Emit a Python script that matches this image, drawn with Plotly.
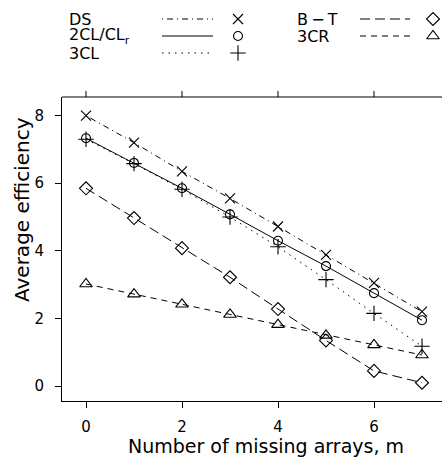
import plotly.graph_objects as go

m = [0, 1, 2, 3, 4, 5, 6, 7]
ds = [8.0, 7.2, 6.35, 5.55, 4.72, 3.88, 3.05, 2.2]
cl2 = [7.33, 6.6, 5.85, 5.08, 4.3, 3.55, 2.75, 1.95]
cl3 = [7.3, 6.58, 5.82, 5.0, 4.12, 3.15, 2.15, 1.18]
bt = [5.85, 4.97, 4.08, 3.22, 2.28, 1.35, 0.45, 0.1]
cr3 = [3.02, 2.72, 2.42, 2.12, 1.82, 1.5, 1.22, 0.92]
x_ticks = [0, 2, 4, 6]
y_ticks = [0, 2, 4, 6, 8]

names = ["DS", "2CL/CL<sub>r</sub>", "3CL", "B\u2009\u2212\u2009T", "3CR"]
series = [ds, cl2, cl3, bt, cr3]
dashes = ["1px,4px,6px,4px", "solid", "1.5px,5px", "10px,5px", "6px,5px"]
symbols = ["x-thin-open", "circle-open", "cross-thin-open", "diamond-open", "triangle-up-open"]
msizes = [10, 9, 11, 10, 11]

FONT = "DejaVu Sans"
W, H = 442, 459
L, B = 62, 58
top_px = 97
plot_h = H - B  # plot area spans pixel rows 0..401 (t=0)
plot_w = W - L
x_range = [-0.5, -0.5 + plot_w / 48.0]
y_dom_top = (plot_h - top_px) / plot_h
main_h = plot_h - top_px


def px(xp):
    return (xp - L) / plot_w


def py(yp):
    return (plot_h - yp) / plot_h


fig = go.Figure()
for ys, dash, sym, ms in zip(series, dashes, symbols, msizes):
    fig.add_trace(go.Scatter(
        x=m, y=ys, mode="lines+markers",
        line=dict(color="black", width=1, dash=dash),
        marker=dict(symbol=sym, size=ms, color="black", line=dict(color="black", width=1.1)),
        showlegend=False, cliponaxis=False, xaxis="x", yaxis="y"))

# top border with outward ticks
fig.add_shape(type="line", xref="x domain", yref="y domain", x0=0, x1=1.05, y0=1, y1=1,
              line=dict(color="black", width=1), layer="above")
for t in x_ticks:
    fig.add_shape(type="line", xref="x", yref="y domain", x0=t, x1=t, y0=1, y1=1 + 6.0 / main_h,
                  line=dict(color="black", width=1), layer="above")

# legend key (drawn on a pixel-scaled helper axis)
leg_pos = [(67, 19, 162, 213, 238), (67, 36, 162, 213, 238), (67, 53, 162, 213, 238),
           (295, 19, 360, 410, 433), (295, 36, 360, 410, 433)]
for name, dash, sym, ms, (tx, ty, x0, x1, sx) in zip(names, dashes, symbols, msizes, leg_pos):
    fig.add_trace(go.Scatter(x=[x0, x1], y=[ty, ty], mode="lines",
                             line=dict(color="black", width=1, dash=dash),
                             showlegend=False, cliponaxis=False, xaxis="x2", yaxis="y2", hoverinfo="skip"))
    fig.add_trace(go.Scatter(x=[sx], y=[ty], mode="markers",
                             marker=dict(symbol=sym, size=ms, color="black", line=dict(color="black", width=1.1)),
                             showlegend=False, cliponaxis=False, xaxis="x2", yaxis="y2", hoverinfo="skip"))
    fig.add_annotation(x=px(tx), y=py(ty), xref="paper", yref="paper", text=name, showarrow=False,
                       xanchor="left", yanchor="middle", height=16, valign="middle",
                       font=dict(family=FONT, size=16, color="black"))

fig.add_annotation(x=px(266), y=py(446), xref="paper", yref="paper", text="Number of missing arrays, m",
                   showarrow=False, xanchor="center", yanchor="middle",
                   font=dict(family=FONT, size=19, color="black"))
fig.add_annotation(x=px(22), y=py(210), xref="paper", yref="paper", text="Average efficiency",
                   showarrow=False, xanchor="center", yanchor="middle", textangle=-90,
                   font=dict(family=FONT, size=20, color="black"))

axis_common = dict(showline=True, linecolor="black", linewidth=1, ticks="outside", ticklen=6,
                   tickcolor="black", showgrid=False, zeroline=False)
fig.update_layout(
    width=W, height=H, margin=dict(l=L, r=0, t=0, b=B),
    paper_bgcolor="white", plot_bgcolor="rgba(0,0,0,0)",
    font=dict(family=FONT, size=15, color="black"),
    xaxis=dict(range=x_range, tickvals=x_ticks, mirror=False, anchor="y",
               tickfont=dict(family=FONT, size=15), ticklabelstandoff=6, **axis_common),
    yaxis=dict(range=[-0.44, 8.55], tickvals=y_ticks, domain=[0, y_dom_top],
               mirror=False, anchor="x",
               tickfont=dict(family=FONT, size=15), ticklabelstandoff=8, **axis_common),
    xaxis2=dict(range=[L, W], domain=[0, 1], visible=False, anchor="y2"),
    yaxis2=dict(range=[plot_h, 0], domain=[0, 1], visible=False, anchor="x2"),
)
fig.write_html("out.html", config={"displayModeBar": False},
               post_script="document.body.style.margin='0px';")
